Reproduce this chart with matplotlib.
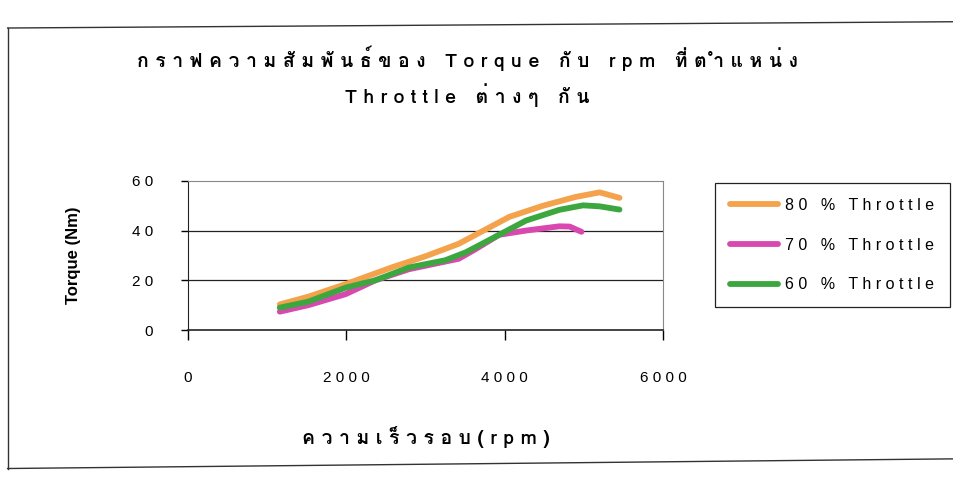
import unicodedata
import matplotlib
matplotlib.use('Agg')
import matplotlib.pyplot as plt
from matplotlib import font_manager
from matplotlib.ft2font import FT2Font
from matplotlib.lines import Line2D

# values (de-skewed)
rpm_80 = [1160, 1520, 1990, 2580, 3000, 3420, 3680, 4060, 4480, 4900, 5200, 5450]
torque_80 = [10.4, 13.5, 18.5, 25.3, 29.7, 34.7, 39.1, 45.5, 49.9, 53.5, 55.3, 53.1]

rpm_70 = [1160, 1520, 1990, 2370, 2790, 3420, 3630, 3930, 4270, 4690, 4820, 4970]
torque_70 = [7.5, 10.1, 14.5, 20.1, 24.5, 28.7, 32.5, 38.3, 40.0, 41.7, 41.6, 39.5]

rpm_60 = [1160, 1520, 1990, 2370, 2790, 3250, 3510, 3930, 4270, 4690, 4990, 5200, 5450]
torque_60 = [9.1, 11.5, 17.1, 20.1, 25.2, 28.1, 31.3, 38.3, 44.0, 48.3, 50.1, 49.7, 48.4]

series_labels = ['80 % Throttle', '70 % Throttle', '60 % Throttle']
x_ticks = [0, 2000, 4000, 6000]
y_ticks = [0, 20, 40, 60]
title_lines = ['กราฟความสัมพันธ์ของ Torque กับ rpm ที่ตำแหน่ง', 'Throttle ต่างๆ กัน']
x_label = 'ความเร็วรอบ(rpm)'
y_label = 'Torque (Nm)'


def find_thai_font():
    # first installed font that actually has Thai glyphs
    for f in font_manager.fontManager.ttflist:
        try:
            if FT2Font(f.fname).get_char_index(0x0E01):
                return f.name
        except Exception:
            pass
    return None


def spread(s):
    # Excel-like letter spacing; keep combining marks on their base letter
    out = []
    for ch in s:
        if out and unicodedata.category(ch) == 'Mn':
            out[-1] += ch
        else:
            out.append(ch)
    return ' '.join(out)


thai = find_thai_font()
thai_fam = ([thai] if thai else []) + ['DejaVu Sans']
latin_fam = ['Liberation Sans', 'DejaVu Sans']

fig = plt.figure(figsize=(9.54, 4.83), dpi=100)
ax = fig.add_axes([0.197, 0.316, 0.498, 0.310])

ax.plot(rpm_80, torque_80, color='#F4A24C', lw=4.2, label=spread(series_labels[0]), solid_capstyle='round')
ax.plot(rpm_70, torque_70, color='#D948AE', lw=4.2, label=spread(series_labels[1]), solid_capstyle='round')
ax.plot(rpm_60, torque_60, color='#3DA73F', lw=4.2, label=spread(series_labels[2]), solid_capstyle='round')

ax.set_xlim(0, 6000)
ax.set_ylim(0, 60)
ax.set_xticks(x_ticks)
ax.set_xticklabels([spread(str(v)) for v in x_ticks], family=latin_fam, fontsize=11)
ax.set_yticks(y_ticks)
ax.set_yticklabels([spread(str(v)) for v in y_ticks], family=latin_fam, fontsize=11)
ax.tick_params(axis='x', direction='out', length=7, pad=22, width=1)
ax.tick_params(axis='y', direction='out', length=5, pad=20, width=1)

for y in [20, 40]:
    ax.axhline(y, color='#222222', lw=0.9, zorder=0)
ax.spines['top'].set_color('#888888')
ax.spines['right'].set_color('#888888')
ax.spines['left'].set_color('#222222')
ax.spines['bottom'].set_color('#222222')
ax.spines['bottom'].set_linewidth(1.2)

ax.set_ylabel(y_label, family=latin_fam, fontsize=12, fontweight='bold', labelpad=37)
ax.set_xlabel(spread(x_label), family=thai_fam, fontsize=14, fontweight='bold', labelpad=30)

fig.text(0.49, 0.879, spread(title_lines[0]), ha='center', va='center',
         family=thai_fam, fontsize=14, fontweight='bold')
fig.text(0.49, 0.804, spread(title_lines[1]), ha='center', va='center',
         family=thai_fam, fontsize=14, fontweight='bold')

leg = fig.legend(loc='upper left', bbox_to_anchor=(0.749, 0.372, 0.247, 0.25),
                 mode='expand', borderaxespad=0, prop={'family': latin_fam, 'size': 11.5},
                 handlelength=3.0, handletextpad=0.45, labelspacing=1.55, borderpad=0.95,
                 fancybox=False, edgecolor='#222222', framealpha=1)
leg.get_frame().set_linewidth(0.9)

# outer chart frame from the scanned page
fig.add_artist(Line2D([0.008, 1.0], [0.942, 0.955], color='#333333', lw=1))
fig.add_artist(Line2D([0.008, 0.008], [0.942, 0.030], color='#333333', lw=1))
fig.add_artist(Line2D([0.008, 1.0], [0.030, 0.050], color='#333333', lw=1))

fig.savefig('out.png', dpi=100)
